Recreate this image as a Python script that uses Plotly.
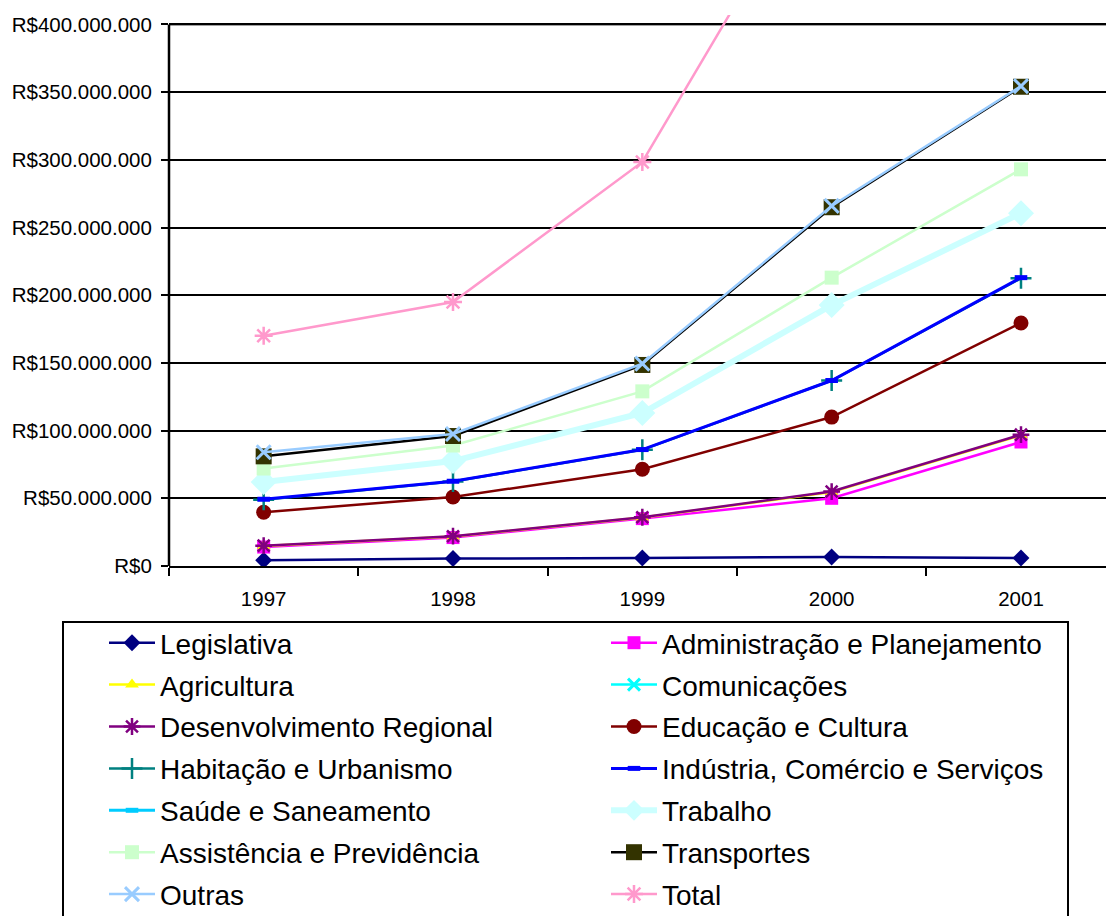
import plotly.graph_objects as go

years = ["1997", "1998", "1999", "2000", "2001"]

legislativa = [4.2e6, 5.5e6, 5.9e6, 6.7e6, 5.9e6]
administracao = [14.0e6, 21.0e6, 35.0e6, 50.0e6, 91.6e6]
agricultura = [14.8e6, 21.8e6, 35.8e6, 54.6e6, 96.6e6]
comunicacoes = [None, None, None, None, None]
desenvolvimento = [15.0e6, 22.0e6, 36.0e6, 55.0e6, 97.0e6]
educacao = [39.7e6, 51.0e6, 71.5e6, 110.0e6, 179.5e6]
habitacao = [49.0e6, 62.5e6, 85.8e6, 137.0e6, 212.5e6]
industria = [49.3e6, 62.6e6, 86.0e6, 137.0e6, 213.0e6]
saude = [None, None, None, None, None]
trabalho = [62.0e6, 77.5e6, 113.0e6, 192.7e6, 260.6e6]
assistencia = [72.0e6, 89.0e6, 129.0e6, 213.0e6, 293.0e6]
transportes = [81.0e6, 96.0e6, 148.5e6, 265.0e6, 354.0e6]
outras = [84.0e6, 97.5e6, 149.5e6, 266.0e6, 354.5e6]
total = [170.0e6, 195.0e6, 298.5e6, 535.0e6, 709.0e6]

y_tickvals = [0, 50e6, 100e6, 150e6, 200e6, 250e6, 300e6, 350e6, 400e6]
y_ticktext = ["R$0", "R$50.000.000", "R$100.000.000", "R$150.000.000", "R$200.000.000",
              "R$250.000.000", "R$300.000.000", "R$350.000.000", "R$400.000.000"]

series = [
    ("Legislativa", legislativa, "#000080", 2.5, dict(symbol="diamond", size=13, color="#000080")),
    ("Administração e Planejamento", administracao, "#FF00FF", 2.5, dict(symbol="square", size=13, color="#FF00FF")),
    ("Agricultura", agricultura, "#FFFF00", 2.5, dict(symbol="triangle-up", size=12, color="#FFFF00")),
    ("Comunicações", comunicacoes, "#00FFFF", 2.5, dict(symbol="x-thin-open", size=12, color="#00FFFF", line=dict(width=3, color="#00FFFF"))),
    ("Desenvolvimento Regional", desenvolvimento, "#800080", 2.5, dict(symbol="asterisk-open", size=14, color="#800080", line=dict(width=2.5, color="#800080"))),
    ("Educação e Cultura", educacao, "#800000", 2.5, dict(symbol="circle", size=15, color="#800000")),
    ("Habitação e Urbanismo", habitacao, "#008080", 2.5, dict(symbol="cross-thin-open", size=15, color="#008080", line=dict(width=2.5, color="#008080"))),
    ("Indústria, Comércio e Serviços", industria, "#0000FF", 3, dict(symbol="line-ew-open", size=9, color="#0000FF", line=dict(width=5, color="#0000FF"))),
    ("Saúde e Saneamento", saude, "#00CCFF", 3, dict(symbol="line-ew-open", size=9, color="#00CCFF", line=dict(width=5, color="#00CCFF"))),
    ("Trabalho", trabalho, "#CCFFFF", 6, dict(symbol="diamond", size=20, color="#CCFFFF")),
    ("Assistência e Previdência", assistencia, "#CCFFCC", 2.5, dict(symbol="square", size=14, color="#CCFFCC")),
    ("Transportes", transportes, "#000000", 2.5, dict(symbol="square", size=16, color="#333300")),
    ("Outras", outras, "#99CCFF", 2.5, dict(symbol="x-thin-open", size=14, color="#99CCFF", line=dict(width=3, color="#99CCFF"))),
    ("Total", total, "#FF99CC", 2.5, dict(symbol="asterisk-open", size=15, color="#FF99CC", line=dict(width=2.5, color="#FF99CC"))),
]

fig = go.Figure()
for i, (name, vals, color, lw, marker) in enumerate(series):
    fig.add_trace(go.Scatter(
        x=years, y=vals, name=name, mode="lines+markers",
        line=dict(color=color, width=lw), marker=marker,
        legend="legend" if i % 2 == 0 else "legend2",
        legendgroup=f"g{i}",
    ))

W, H = 1106, 916
L, R, T, B = 169, 0, 15, 350
pw, ph = W - L - R, H - T - B

def px_x(x):
    return (x - L) / pw

def px_y(y):
    return (H - B - y) / ph

FONT = "Liberation Sans, Arial, sans-serif"
leg_common = dict(
    orientation="v", xanchor="left", yanchor="top",
    itemwidth=46,
    font=dict(size=28, family=FONT, color="black"),
    bgcolor="rgba(0,0,0,0)", borderwidth=0,
    traceorder="grouped", tracegroupgap=2.5,
)

fig.update_layout(
    width=W, height=H,
    margin=dict(l=L, r=R, t=T, b=B, autoexpand=False),
    paper_bgcolor="white", plot_bgcolor="white",
    font=dict(family=FONT, color="black"),
    showlegend=True,
    legend=dict(x=px_x(104), y=px_y(618), **leg_common),
    legend2=dict(x=px_x(606), y=px_y(618), **leg_common),
    xaxis=dict(
        type="category", range=[-0.5, 4.449],
        showline=True, linecolor="black", linewidth=2,
        ticks="outside", ticklen=8, tickwidth=2, tickcolor="black",
        tickson="boundaries", showgrid=False,
        tickfont=dict(size=20.5, family=FONT),
        ticklabelstandoff=13,
        fixedrange=True,
    ),
    yaxis=dict(
        range=[0, 407e6],
        tickvals=y_tickvals, ticktext=y_ticktext,
        showline=False, zeroline=False,
        showgrid=True, gridcolor="black", gridwidth=2,
        ticks="outside", ticklen=7, tickwidth=2, tickcolor="black",
        tickfont=dict(size=20.5, family=FONT),
        ticklabelstandoff=5,
        fixedrange=True,
    ),
    shapes=[
        dict(type="line", xref="paper", yref="y", x0=0, x1=1, y0=400e6, y1=400e6,
             line=dict(color="#808080", width=2.5), layer="below"),
        dict(type="line", xref="paper", yref="y", x0=0, x1=0, y0=0, y1=400e6,
             line=dict(color="black", width=2.5), layer="above"),
        dict(type="rect", xref="paper", yref="paper",
             x0=px_x(63), x1=px_x(1068), y0=px_y(622), y1=px_y(930),
             line=dict(color="black", width=2), fillcolor="rgba(0,0,0,0)", layer="above"),
    ],
)

fig.write_html("out.html")
